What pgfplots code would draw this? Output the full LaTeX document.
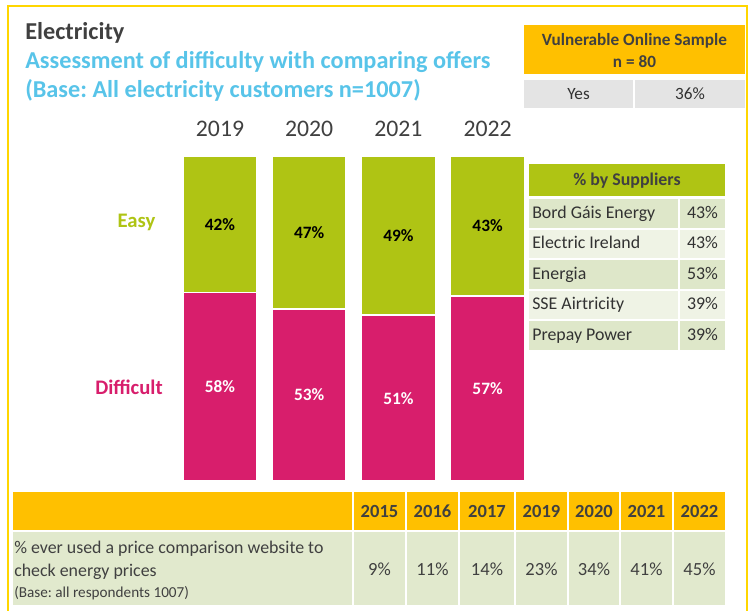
\documentclass[border=0pt]{standalone}
\usepackage{pgfplots}
\pgfplotsset{compat=1.18}
\usepackage{fontspec}
\setmainfont{Carlito}
\frenchspacing
\definecolor{frameyellow}{RGB}{255,214,0}
\definecolor{titlegray}{RGB}{64,64,64}
\definecolor{subblue}{RGB}{88,196,233}
\definecolor{greenbar}{RGB}{175,196,20}
\definecolor{magbar}{RGB}{216,30,108}
\definecolor{orangec}{RGB}{255,192,0}
\definecolor{graycell}{RGB}{228,228,228}
\definecolor{supdark}{RGB}{222,231,201}
\definecolor{suplight}{RGB}{239,243,229}
\definecolor{bodygreen}{RGB}{225,233,205}
\definecolor{darktext}{RGB}{50,50,50}
\begin{document}
\begin{tikzpicture}[x=0.75pt,y=0.75pt]
\path[use as bounding box,fill=white] (0,0) rectangle (751,-611);
\draw[frameyellow,line width=2.2pt] (8,-640) -- (8,-6) -- (747,-6) -- (747,-640);
% titles
\node[anchor=base west,inner sep=0,text=titlegray,font=\fontsize{18.2}{21}\selectfont\bfseries] at (25,-39) {Electricity};
\node[anchor=base west,inner sep=0,text=subblue,font=\fontsize{18.2}{21}\selectfont\bfseries] at (25,-68) {Assessment of difficulty with comparing offers};
\node[anchor=base west,inner sep=0,text=subblue,font=\fontsize{18.2}{21}\selectfont\bfseries] at (25,-97) {(Base: All electricity customers n=1007)};
% vulnerable box
\fill[orangec] (524,-25) rectangle (745,-74);
\node[text=titlegray,font=\fontsize{12.9}{15}\selectfont\bfseries] at (634.5,-40.5) {Vulnerable Online Sample};
\node[text=titlegray,font=\fontsize{12.9}{15}\selectfont\bfseries] at (634.5,-62) {n = 80};
\fill[graycell] (524,-80) rectangle (633,-108);
\fill[graycell] (635,-80) rectangle (745,-108);
\node[text=darktext,font=\fontsize{12.9}{15}\selectfont] at (578.5,-94) {Yes};
\node[text=darktext,font=\fontsize{12.9}{15}\selectfont] at (690,-94) {36\%};
% easy / difficult
\node[text=greenbar,font=\fontsize{15.5}{18}\selectfont\bfseries] at (136.5,-222) {Easy};
\node[text=magbar,font=\fontsize{15.5}{18}\selectfont\bfseries] at (129,-387) {Difficult};
% bars
\begin{axis}[at={(131.55pt,-360.75pt)},anchor=south west,scale only axis,
  width=267.6pt,height=243.75pt,xmin=-0.5,xmax=3.5,ymin=0,ymax=100,
  ybar stacked,bar width=55.5pt,
  axis line style={draw=none},major tick length=0pt,ytick=\empty,
  xtick={0,1,2,3},xticklabels={2019,2020,2021,2022},xticklabel pos=upper,
  xticklabel style={font=\fontsize{17.8}{21}\selectfont,text=titlegray,yshift=11pt},
  clip=false]
\addplot[fill=magbar,draw=white,line width=1.3pt] coordinates {(0,58) (1,53) (2,51) (3,57)};
\addplot[fill=greenbar,draw=white,line width=1.3pt] coordinates {(0,42) (1,47) (2,49) (3,43)};
\end{axis}
\begin{axis}[at={(131.55pt,-360.75pt)},anchor=south west,scale only axis,
  width=267.6pt,height=243.75pt,xmin=-0.5,xmax=3.5,ymin=0,ymax=100,hide axis,clip=false,
  /pgf/number format/assume math mode=true]
\addplot[draw=none,mark=none,nodes near coords={\pgfmathprintnumber{\pgfplotspointmeta}\%},point meta=explicit,
  nodes near coords style={anchor=center,text=black,font=\fontsize{13}{15}\selectfont\bfseries}]
  table[meta=v] {
x y v
0 79 42
1 76.5 47
2 75.5 49
3 78.5 43
};
\addplot[draw=none,mark=none,nodes near coords={\pgfmathprintnumber{\pgfplotspointmeta}\%},point meta=explicit,
  nodes near coords style={anchor=center,text=white,font=\fontsize{13}{15}\selectfont\bfseries}]
  table[meta=v] {
x y v
0 29 58
1 26.5 53
2 25.5 51
3 28.5 57
};
\end{axis}
% suppliers table
\fill[greenbar] (529,-164) rectangle (725,-195.5);
\node[text=titlegray,font=\fontsize{13.4}{16}\selectfont\bfseries] at (627,-181) {\% by Suppliers};
\foreach \name/\val [count=\i from 0] in {Bord Gáis Energy/43,Electric Ireland/43,Energia/53,SSE Airtricity/39,Prepay Power/39}{
  \pgfmathsetmacro{\top}{-(199+30.6*\i)}
  \pgfmathsetmacro{\bot}{\top-28.6}
  \pgfmathsetmacro{\mid}{\top-19}
  \pgfmathtruncatemacro{\odd}{mod(\i,2)}
  \ifnum\odd=0 \def\cc{supdark}\else\def\cc{suplight}\fi
  \fill[\cc] (529,\top) rectangle (678,\bot);
  \fill[\cc] (680,\top) rectangle (725,\bot);
  \node[anchor=base west,inner sep=0,text=darktext,font=\fontsize{13.4}{16}\selectfont] at (532,\mid) {\name};
  \node[anchor=base,inner sep=0,text=darktext,font=\fontsize{13.4}{16}\selectfont] at (702.5,\mid) {\val\%};
}
% bottom table
\fill[orangec] (13,-492) rectangle (352,-530);
\fill[bodygreen] (13,-532) rectangle (352,-605);
\foreach \a/\b/\yr/\val in {354/405/2015/9,407/458/2016/11,460/514/2017/14,516/567/2019/23,569/619/2020/34,621/672/2021/41,674/725/2022/45}{
  \fill[orangec] (\a,-492) rectangle (\b,-530);
  \fill[bodygreen] (\a,-532) rectangle (\b,-605);
  \node[text=titlegray,font=\fontsize{13.9}{16}\selectfont\bfseries] at ({(\a+\b)/2},-511.5) {\yr};
  \node[text=titlegray,font=\fontsize{13.9}{16}\selectfont] at ({(\a+\b)/2},-569) {\val\%};
}
\node[anchor=base west,inner sep=0,text=titlegray,font=\fontsize{13.4}{16}\selectfont] at (14,-553) {\% ever used a price comparison website to};
\node[anchor=base west,inner sep=0,text=titlegray,font=\fontsize{13.4}{16}\selectfont] at (14,-576) {check energy prices};
\node[anchor=base west,inner sep=0,text=titlegray,font=\fontsize{11.4}{13}\selectfont] at (14,-597) {(Base: all respondents 1007)};
\end{tikzpicture}
\end{document}
